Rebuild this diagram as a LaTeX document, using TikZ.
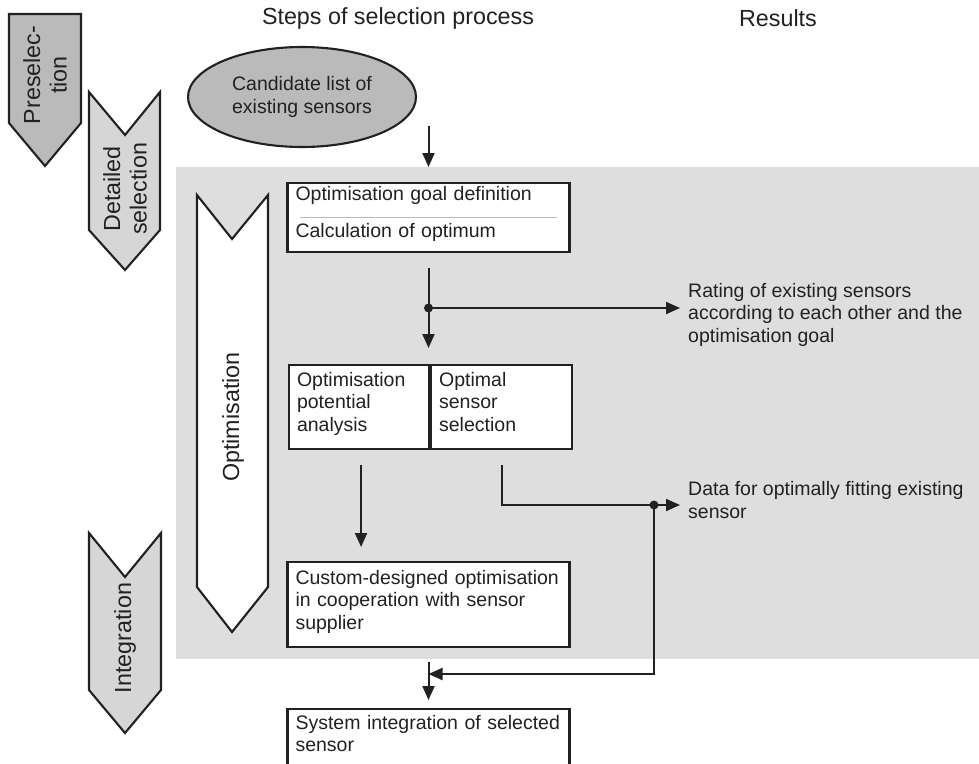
\documentclass[tikz,border=0pt]{standalone}
\usepackage{fontspec}
\setmainfont{Liberation Sans}
\usetikzlibrary{arrows.meta, calc, positioning, shapes.geometric}
\definecolor{panelgray}{gray}{0.87}
\definecolor{darkchev}{gray}{0.73}
\definecolor{lightchev}{gray}{0.84}
\definecolor{inkgray}{gray}{0.13}
\newcommand{\boxfont}{\fontsize{19.5}{22.5}\selectfont}
\newcommand{\headfont}{\fontsize{23.3}{26.5}\selectfont}

\begin{document}
\begin{tikzpicture}[x=1pt, y=-1pt,
    chevstyle/.style={draw=inkgray, line width=2.1pt, line join=miter},
    headstyle/.style={font=\headfont, text=inkgray, align=center, inner sep=0pt},
    boxstyle/.style={draw=inkgray, line width=2.1pt, fill=white, font=\boxfont, text=inkgray,
      align=left, inner xsep=8pt, inner ysep=0pt, anchor=north},
    flowstyle/.style={-{Triangle[length=14pt,width=12pt]}, draw=inkgray, line width=2pt},
    junction/.style={circle, fill=inkgray, inner sep=0pt, minimum size=9pt},
    resultstyle/.style={font=\boxfont, text=inkgray, align=left, inner sep=0pt, anchor=base west}]
  \fill[white] (0,0) rectangle (979,763);
  \clip (0,0) rectangle (979,763);
  \fill[panelgray] (176,167) rectangle (979,659);

  \node[headstyle] (steps) at (398,18) {Steps of selection process};
  \node[headstyle] (results) at (778,18) {Results};

  \draw[chevstyle, fill=darkchev] (9,14) -- (81,14) -- (81,123) -- (45,166) -- (9,123) -- cycle;
  \draw[chevstyle, fill=lightchev] (89,92) -- (125,135) -- (160,92) -- (160,230) -- (125,270) -- (89,230) -- cycle;
  \draw[chevstyle, fill=white] (197,195) -- (232,239) -- (268,195) -- (268,587) -- (232,632) -- (197,587) -- cycle;
  \draw[chevstyle, fill=lightchev] (89,533) -- (125,577) -- (161,533) -- (161,690) -- (125,733) -- (89,690) -- cycle;
  \node[headstyle, rotate=90] (presel) at (45,75) {Preselec-\\tion};
  \node[headstyle, rotate=90] (detail) at (125,189) {Detailed\\selection};
  \node[headstyle, rotate=90] (optim) at (233,417) {Optimisation};
  \node[headstyle, rotate=90] (integ) at (125,638) {Integration};

  \node[ellipse, draw=inkgray, line width=2.1pt, fill=darkchev, minimum width=228pt, minimum height=100pt,
    font=\boxfont, text=inkgray, align=center, inner sep=0pt] (cands) at (302,97) {Candidate list of\\existing sensors};

  \node[boxstyle, text width=266pt, text height=17pt, text depth=52pt] (goal) at (428.5,182)
    {Optimisation goal definition\\[14.5pt]Calculation of optimum};
  \draw[gray!55, line width=0.6pt] ([xshift=14pt]goal.west) -- ([xshift=-14pt]goal.east);
  \node[boxstyle, anchor=north west, text width=124pt, text height=21pt, text depth=63pt] (potential) at (288,364)
    {Optimisation\\potential\\analysis};
  \node[boxstyle, anchor=north west, text width=125pt, text height=21pt, text depth=63pt] (optsel) at (potential.north east)
    {Optimal\\sensor\\selection};
  \node[boxstyle, text width=266pt, text height=22pt, text depth=63pt] (custom) at (428.5,561)
    {Custom-designed optimisation\\in cooperation with sensor\\supplier};
  \node[boxstyle, text width=266pt, text height=20pt, text depth=70pt] (system) at (428.5,708)
    {System integration of selected\\sensor};

  \node[resultstyle] (rating) at (688,342) {Rating of existing sensors\\according to each other and the\\optimisation goal};
  \node[resultstyle] (fitting) at (688,518) {Data for optimally fitting existing\\sensor};

  \coordinate (candout) at (428.5,126);
  \coordinate (panelin) at (428.5,167);
  \coordinate (goalout) at ([yshift=-15pt]goal.south);
  \coordinate (ratejoin) at (428.5,308);
  \coordinate (potout) at ([xshift=2pt, yshift=-15pt]potential.south);
  \coordinate (selout) at ([yshift=-15pt]optsel.south);
  \coordinate (fitjoin) at (654,505);
  \coordinate (intjoin) at (428.5,674);

  \draw[flowstyle] (candout) -- (panelin);
  \draw[flowstyle, shorten >=16pt] (goalout) -- (goalout |- potential.north);
  \draw[flowstyle, shorten >=8pt] (ratejoin) -- (ratejoin -| rating.west);
  \node[junction] (ratedot) at (ratejoin) {};
  \draw[flowstyle, shorten >=14pt] (potout) -- (potout |- custom.north);
  \draw[flowstyle, shorten >=8pt] (selout) |- (fitjoin) -- (fitjoin -| fitting.west);
  \draw[flowstyle] (fitjoin) |- (intjoin);
  \node[junction] (fitdot) at (fitjoin) {};
  \draw[flowstyle] ([yshift=-14pt]custom.south) -- ([yshift=8pt]system.north);
\end{tikzpicture}
\end{document}
